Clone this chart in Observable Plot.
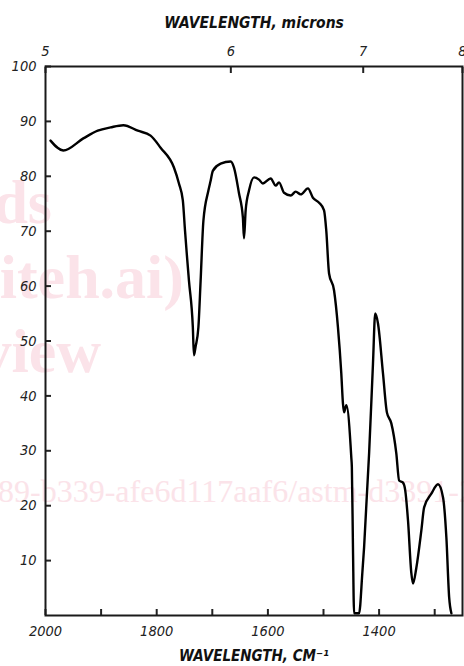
<!DOCTYPE html>
<html>
<head>
<meta charset="utf-8">
<script src="https://cdn.jsdelivr.net/npm/d3@7"></script>
<script src="https://cdn.jsdelivr.net/npm/@observablehq/plot@0.6"></script>
<style>
  html, body { margin: 0; padding: 0; background: #fff; }
  #wrap { position: relative; width: 464px; height: 666px; overflow: hidden; }
  #wm { position: absolute; left: 0; top: 0; z-index: 0; }
  #chart { position: absolute; left: 0; top: 0; width: 464px; height: 666px; z-index: 1; }
  #chart svg text { font-style: italic !important; }
</style>
</head>
<body>
<div id="wrap">
  <svg id="wm" width="464" height="666"></svg>
  <div id="chart"></div>
</div>
<script>
// Infrared spectrum: wavenumber (cm^-1) vs transmittance (%)
const wavenumber = [
  1991, 1968, 1932, 1906, 1883, 1860, 1834, 1811, 1793, 1769,
  1760, 1753, 1749, 1746, 1742, 1735, 1733, 1730, 1725, 1721,
  1716, 1707, 1703, 1699, 1685, 1667, 1661, 1652, 1645, 1643,
  1640, 1634, 1625, 1616, 1609, 1595, 1586, 1580, 1571, 1559,
  1550, 1541, 1528, 1519, 1508, 1499, 1495, 1490, 1481, 1474,
  1468, 1465, 1463, 1459, 1450, 1449, 1447, 1445, 1436, 1430,
  1427, 1418, 1411, 1407, 1402, 1393, 1386, 1378, 1369, 1364,
  1357, 1353, 1348, 1342, 1339, 1333, 1324, 1319, 1306, 1294,
  1285, 1279, 1274, 1270
];
const transmittance = [
  86.5, 84.7, 86.9, 88.3, 88.9, 89.3, 88.3, 87.4, 85.2, 81.6,
  78.7, 75.6, 70.0, 66.0, 61.0, 52.5, 47.4, 49.0, 52.5, 61.0,
  71.9, 77.4, 79.2, 81.0, 82.3, 82.7, 81.6, 76.9, 72.5, 68.7,
  73.8, 77.4, 79.8, 79.4, 78.7, 79.6, 78.3, 78.9, 77.0, 76.5,
  77.2, 76.7, 77.8, 76.1, 75.2, 73.8, 70.1, 62.3, 59.2, 52.5,
  44.1, 38.6, 37.0, 38.3, 28.8, 27.0, 12.4, 0.4, 0.4, 8.0,
  12.4, 29.5, 45.9, 55.0, 53.2, 44.1, 37.0, 35.0, 29.5, 24.6,
  24.2, 22.8, 17.3, 7.7, 5.8, 8.7, 15.5, 19.7, 22.2, 23.9,
  21.5, 14.2, 3.3, 0.4
];
const yTicks = [10, 20, 30, 40, 50, 60, 70, 80, 90, 100];
const xTicks = [2000, 1900, 1800, 1700, 1600, 1500, 1400, 1300];
const micronTicks = [5, 6, 7, 8];
const topTitle = "WAVELENGTH, microns";
const bottomTitle = "WAVELENGTH, CM\u207B\u00B9";
const watermark = [
  {text: "ds", x: 52, y: 223, size: 62, weight: "bold"},
  {text: "iteh.ai)", x: 184, y: 298, size: 62, weight: "bold"},
  {text: "view", x: 101, y: 372, size: 62, weight: "bold"}
];
const watermarkLine = "89-b339-afe6d117aaf6/astm-d3391-2";

const data = wavenumber.map((w, i) => ({w, t: transmittance[i]}));

// faint watermark behind the chart
const wm = d3.select("#wm");
watermark.forEach(d => {
  wm.append("text").attr("x", d.x).attr("y", d.y).attr("text-anchor", "end")
    .attr("font-family", "'Liberation Serif', serif").attr("font-size", d.size)
    .attr("font-weight", d.weight).attr("fill", "#fbe3e9").text(d.text);
});
wm.append("text").attr("x", -2).attr("y", 502)
  .attr("font-family", "'Liberation Serif', serif").attr("font-size", 32)
  .attr("fill", "#fbe3e9").text(watermarkLine);

const font = "'DejaVu Sans Condensed', 'DejaVu Sans', sans-serif";
const tickFont = {fontSize: 14.5, fontStyle: "italic"};

const chart = Plot.plot({
  width: 464,
  height: 666,
  marginTop: 66,
  marginBottom: 51,
  marginLeft: 45,
  marginRight: 2,
  style: {background: "transparent", fontFamily: font, fontSize: "14.5px", fontStyle: "italic", color: "#222"},
  x: {domain: [2000, 1250]},
  y: {domain: [0, 100]},
  marks: [
    Plot.axisY({anchor: "left", ticks: yTicks, tickSize: -6, tickPadding: 15, strokeWidth: 2, label: null, ...tickFont, tickFormat: d => String(d)}),
    Plot.axisX({anchor: "bottom", ticks: xTicks, tickSize: -6, tickPadding: 16, strokeWidth: 2, label: null, ...tickFont,
      tickFormat: d => (d % 200 === 0 ? String(d) : "")}),
    Plot.axisX({anchor: "top", ticks: micronTicks.map(m => 10000 / m), tickSize: -6, tickPadding: 17, strokeWidth: 2, label: null, ...tickFont,
      tickFormat: d => String(Math.round(10000 / d))}),
    Plot.frame({stroke: "#1a1a1a", strokeWidth: 2}),
    Plot.line(data, {x: "w", y: "t", stroke: "#000", strokeWidth: 2.4, curve: "monotone-x"}),
    Plot.text([topTitle], {frameAnchor: "top", dy: -50, fontWeight: "bold", fontSize: 15.5, fontStyle: "italic", fill: "#111"}),
    Plot.text([bottomTitle], {frameAnchor: "bottom", dy: 45, fontWeight: "bold", fontSize: 15, fontStyle: "italic", fill: "#111", letterSpacing: "1.8px"})
  ]
});
document.getElementById("chart").appendChild(chart);
</script>
</body>
</html>
